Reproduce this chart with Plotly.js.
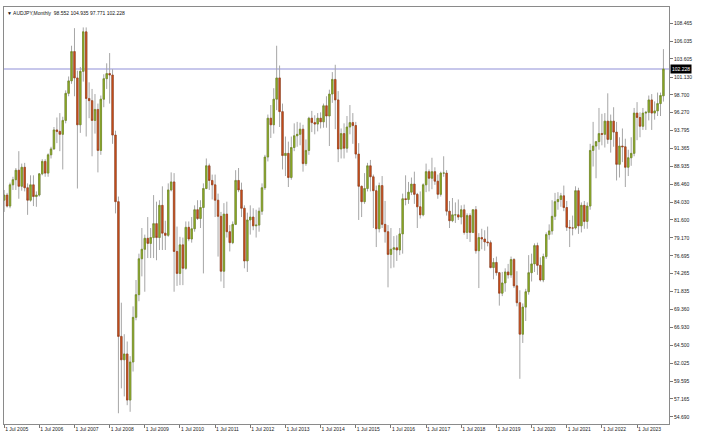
<!DOCTYPE html>
<html><head><meta charset="utf-8">
<script src="https://cdn.plot.ly/plotly-3.0.1.min.js"></script>
<style>html,body{margin:0;padding:0;background:#fff;} #chart{width:705px;height:437px;}</style>
</head><body><div id="chart"></div>
<script>
// AUDJPY monthly, first bar = Jul 2005
const symbol = 'AUDJPY,Monthly';
const startYear = 2005, startMonth = 7;
const open = [
84.3,85.0,83.5,86.4,87.1,88.4,
86.2,88.8,86.0,84.3,86.4,84.8,85.0,87.9,89.6,88.0,90.5,91.3,
93.9,93.7,93.3,95.2,98.9,100.6,104.6,101.0,94.6,101.9,107.3,98.2,
97.9,95.2,96.7,91.1,98.1,100.9,101.6,101.4,93.2,84.1,65.7,62.5,
63.3,57.0,62.2,68.3,71.4,76.3,77.6,79.1,78.4,79.2,81.1,79.2,
83.6,79.8,79.5,85.7,86.8,77.3,74.3,78.2,75.0,80.6,79.0,80.4,
83.0,81.8,83.3,85.9,89.0,87.0,86.4,84.3,82.1,74.6,82.4,80.0,
78.5,81.0,87.0,85.7,83.2,76.0,81.6,82.0,80.8,80.9,82.8,86.0,
90.2,95.5,94.6,98.1,101.0,96.4,90.4,90.7,87.4,91.5,93.1,93.3,
94.0,89.3,91.1,95.5,94.9,94.7,95.5,95.0,97.2,95.8,98.8,100.8,
98.0,91.3,93.4,91.4,94.3,94.9,94.5,90.6,86.2,84.1,85.9,89.0,
87.5,85.6,80.4,86.3,81.0,80.0,76.9,77.6,77.8,77.5,79.7,84.5,
84.4,85.4,86.5,85.1,83.4,82.3,86.4,88.2,87.3,88.2,86.9,85.1,
88.0,88.0,82.8,81.5,82.3,82.3,82.0,83.0,79.9,82.2,79.9,83.0,
77.4,79.2,79.0,78.6,78.5,75.1,75.8,74.4,71.6,73.0,74.5,74.1,
76.2,72.6,70.3,66.0,69.7,71.8,74.4,75.6,78.1,75.4,73.4,76.6,
79.6,80.1,82.1,84.1,84.4,84.9,83.3,80.6,80.5,80.5,85.6,80.8,
83.6,81.4,83.5,91.1,91.7,92.3,93.4,93.3,95.1,92.6,95.1,93.6,
89.2,91.7,91.6,88.8,90.1,90.7,96.2,95.6,94.4,96.2,96.3,98.0,
96.2,96.5,97.5,98.552];
const high = [
85.7,85.3,86.7,87.5,88.7,91.0,
89.3,89.4,86.6,87.7,87.7,85.5,88.0,89.9,89.9,90.7,91.6,94.3,
95.6,96.2,95.7,99.3,101.2,105.4,107.8,102.0,102.5,107.9,107.9,100.4,
99.5,98.8,97.5,98.6,101.5,103.0,104.4,102.2,93.8,84.8,70.3,66.0,
65.0,63.0,69.8,73.4,77.0,80.5,79.6,82.0,80.5,85.0,84.1,84.3,
86.2,81.5,86.6,88.1,88.0,80.7,79.3,79.2,81.4,81.4,82.0,83.6,
84.3,84.3,86.6,90.0,89.3,87.8,87.8,85.2,82.7,83.9,84.1,80.9,
81.4,88.4,88.7,86.7,83.6,82.6,83.6,83.2,83.0,83.3,86.6,90.5,
96.0,97.3,99.6,105.4,102.7,97.5,93.0,92.3,93.0,94.8,95.0,94.9,
94.6,92.6,95.7,96.5,95.9,96.2,96.3,97.5,98.5,99.4,101.8,102.8,
99.2,94.1,94.8,95.8,97.3,96.2,95.0,92.1,86.3,88.0,89.4,89.8,
87.8,86.3,86.7,87.6,84.2,80.9,80.5,79.4,79.5,80.5,85.2,87.7,
86.8,87.4,88.2,85.3,85.5,86.6,89.3,88.5,90.1,88.8,87.8,88.2,
90.3,88.4,84.2,84.6,84.0,84.4,83.6,83.7,82.5,82.5,83.0,83.5,
79.8,80.4,80.2,80.7,78.8,76.4,76.6,74.5,74.5,75.0,75.6,76.6,
76.4,74.6,72.0,70.2,72.2,76.8,77.0,78.4,78.5,76.5,77.0,79.9,
81.0,84.3,85.3,85.4,85.3,86.3,84.2,81.6,82.2,86.2,86.0,84.0,
84.2,84.0,92.0,95.0,92.4,96.9,96.1,96.2,98.9,96.0,97.0,95.0,
92.9,94.1,92.7,91.2,92.9,96.9,97.7,96.3,96.9,96.5,98.6,98.8,
97.8,99.0,99.0,104.935];
const low = [
82.7,83.3,83.2,85.7,85.7,84.5,
85.6,85.5,82.3,84.1,83.5,83.4,84.8,87.7,87.5,87.5,90.0,91.2,
92.1,91.0,88.5,94.8,98.5,100.2,98.5,85.9,93.5,100.5,93.0,95.5,
90.3,93.4,88.1,90.5,97.0,99.5,97.5,92.0,82.5,55.2,58.6,57.5,
56.3,55.4,60.9,67.9,70.5,73.9,71.8,76.4,76.4,76.4,76.1,77.5,
77.5,77.5,79.3,85.5,71.8,72.6,72.7,72.7,74.8,78.7,78.5,80.0,
81.6,80.5,74.3,85.8,85.7,84.4,82.0,76.6,73.2,72.3,79.2,77.3,
78.3,80.9,85.4,82.0,75.0,74.5,79.6,80.2,79.2,80.0,82.3,85.7,
89.6,92.8,93.4,96.6,94.3,88.5,87.6,86.1,87.1,91.0,91.6,91.8,
88.2,89.0,90.5,93.6,93.3,93.7,94.1,94.2,94.2,91.7,97.6,94.0,
89.5,90.0,90.0,90.8,93.3,92.0,90.0,81.6,82.0,83.8,85.5,85.5,
80.5,77.9,79.9,80.5,78.5,72.4,75.0,75.1,76.0,76.8,77.0,83.6,
83.8,85.0,83.8,80.5,81.8,82.1,85.4,85.5,85.8,86.4,84.5,84.8,
87.5,82.2,80.5,81.3,81.2,81.6,81.0,79.6,79.0,78.6,79.8,77.0,
72.3,77.6,77.4,78.0,75.0,73.5,74.0,69.9,71.2,71.8,73.6,73.7,
72.3,69.8,59.9,64.8,67.8,71.4,73.2,74.5,74.1,73.2,73.1,76.3,
78.9,79.6,81.6,83.0,83.4,82.8,80.1,77.9,79.5,80.3,79.7,79.9,
80.4,80.4,83.0,88.9,87.3,91.2,91.8,91.5,92.0,90.8,91.6,87.0,
87.4,89.5,86.1,87.6,89.0,90.3,92.5,92.9,93.9,93.9,95.2,93.9,
95.3,95.8,95.8,97.771];
const close = [
85.0,83.5,86.4,87.1,88.4,86.2,
88.8,86.0,84.3,86.4,84.8,85.0,87.9,89.6,88.0,90.5,91.3,93.9,
93.7,93.3,95.2,98.9,100.6,104.6,101.0,94.6,101.9,107.3,98.2,97.9,
95.2,96.7,91.1,98.1,100.9,101.6,101.4,93.2,84.1,65.7,62.5,63.3,
57.0,62.2,68.3,71.4,76.3,77.6,79.1,78.4,79.2,81.1,79.2,83.6,
79.8,79.5,85.7,86.8,77.3,74.3,78.2,75.0,80.6,79.0,80.4,83.0,
81.8,83.3,85.9,89.0,87.0,86.4,84.3,82.1,74.6,82.4,80.0,78.5,
81.0,87.0,85.7,83.2,76.0,81.6,82.0,80.8,80.9,82.8,86.0,90.2,
95.5,94.6,98.1,101.0,96.4,90.4,90.7,87.4,91.5,93.1,93.3,94.0,
89.3,91.1,95.5,94.9,94.7,95.5,95.0,97.2,95.8,98.8,100.8,98.0,
91.3,93.4,91.4,94.3,94.9,94.5,90.6,86.2,84.1,85.9,89.0,87.5,
85.6,80.4,86.3,81.0,80.0,76.9,77.6,77.8,77.5,79.7,84.5,84.4,
85.4,86.5,85.1,83.4,82.3,86.4,88.2,87.3,88.2,86.9,85.1,88.0,
88.0,82.8,81.5,82.3,82.3,82.0,83.0,79.9,82.2,79.9,83.0,77.4,
79.2,79.0,78.6,78.5,75.1,75.8,74.4,71.6,73.0,74.5,74.1,76.2,
72.6,70.3,66.0,69.7,71.8,74.4,75.6,78.1,75.4,73.4,76.6,79.6,
80.1,82.1,84.1,84.4,84.9,83.3,80.6,80.5,80.5,85.6,80.8,83.6,
81.4,83.5,91.1,91.7,92.3,93.4,93.3,95.1,92.6,95.1,93.6,89.2,
91.7,91.6,88.8,90.1,90.7,96.2,95.6,94.4,96.2,96.3,98.0,96.2,
96.5,97.5,98.6,102.228];
const yTickVals = [108.465,106.035,103.605,101.130,98.700,96.270,93.795,91.365,88.935,86.460,84.030,81.600,79.170,76.695,74.265,71.835,69.360,66.930,64.500,62.025,59.595,57.165,54.690];

const months = open.map((_, i) => {
  const m = startMonth - 1 + i;
  return (startYear + Math.floor(m / 12)) + '-' + String(m % 12 + 1).padStart(2, '0');
});
const xTickVals = months.filter(m => m.endsWith('-07'));
const xTickText = xTickVals.map(m => '1 Jul ' + m.slice(0, 4));
const yTickText = yTickVals.map(v => v.toFixed(3));
const bodyHigh = open.map((o, i) => Math.max(o, close[i]));
const bodyLow = open.map((o, i) => Math.min(o, close[i]));
const n = close.length;
const last = close[n - 1];
const fmt = v => v.toFixed(3);

const wicks = {
  type: 'candlestick', x: months, open: open, high: high, low: low, close: close,
  increasing: {line: {color: '#a6a6a6', width: 1}, fillcolor: '#a6a6a6'},
  decreasing: {line: {color: '#a6a6a6', width: 1}, fillcolor: '#a6a6a6'},
  whiskerwidth: 0, hoverinfo: 'skip', showlegend: false
};
const bodies = {
  type: 'candlestick', x: months, open: open, high: bodyHigh, low: bodyLow, close: close,
  increasing: {line: {color: '#6f8a1c', width: 0.6}, fillcolor: '#93b126'},
  decreasing: {line: {color: '#9c3b14', width: 0.6}, fillcolor: '#d2531d'},
  whiskerwidth: 0, hoverinfo: 'skip', showlegend: false
};
const tickFont = {family: 'Liberation Sans, Arial, sans-serif', size: 5, color: '#222'};
const layout = {
  width: 705, height: 437,
  margin: {l: 4, r: 36, t: 7, b: 13, pad: 0},
  paper_bgcolor: '#ffffff', plot_bgcolor: '#ffffff',
  showlegend: false, hovermode: false,
  xaxis: {
    type: 'category', range: [-0.05, 226.9],
    tickvals: xTickVals, ticktext: xTickText, tickangle: 0,
    ticks: 'outside', ticklen: 3, tickcolor: '#777', tickwidth: 1,
    ticklabelposition: 'outside right', tickfont: tickFont,
    showgrid: false, zeroline: false, showline: true, linecolor: '#8a8a8a', linewidth: 1, mirror: true,
    rangeslider: {visible: false}, fixedrange: true
  },
  yaxis: {
    side: 'right', range: [53.732, 110.691],
    tickvals: yTickVals, ticktext: yTickText,
    ticks: 'outside', ticklen: 3, tickcolor: '#777', tickwidth: 1,
    tickfont: tickFont,
    showgrid: false, zeroline: false, showline: true, linecolor: '#8a8a8a', linewidth: 1, mirror: true,
    fixedrange: true
  },
  shapes: [{type: 'line', xref: 'paper', x0: 0, x1: 1, yref: 'y', y0: last, y1: last,
            line: {color: '#b4b4e4', width: 1.5}, layer: 'below'}],
  annotations: [
    {xref: 'paper', x: 1, xanchor: 'left', xshift: 1, yref: 'y', y: last, yanchor: 'middle',
     text: fmt(last), showarrow: false, bgcolor: '#000000', borderpad: 1,
     font: {family: 'Liberation Sans, Arial, sans-serif', size: 5, color: '#ffffff'}},
    {xref: 'paper', x: 0, xanchor: 'left', xshift: 1, yref: 'paper', y: 1, yanchor: 'top', yshift: -1,
     text: '▼ ' + symbol + '  ' + fmt(open[n-1]) + ' ' + fmt(high[n-1]) + ' ' + fmt(low[n-1]) + ' ' + fmt(last),
     showarrow: false, font: {family: 'Liberation Sans, Arial, sans-serif', size: 5, color: '#111'}}
  ]
};
Plotly.newPlot('chart', [wicks, bodies], layout, {staticPlot: true, displayModeBar: false});
</script>
</body></html>
